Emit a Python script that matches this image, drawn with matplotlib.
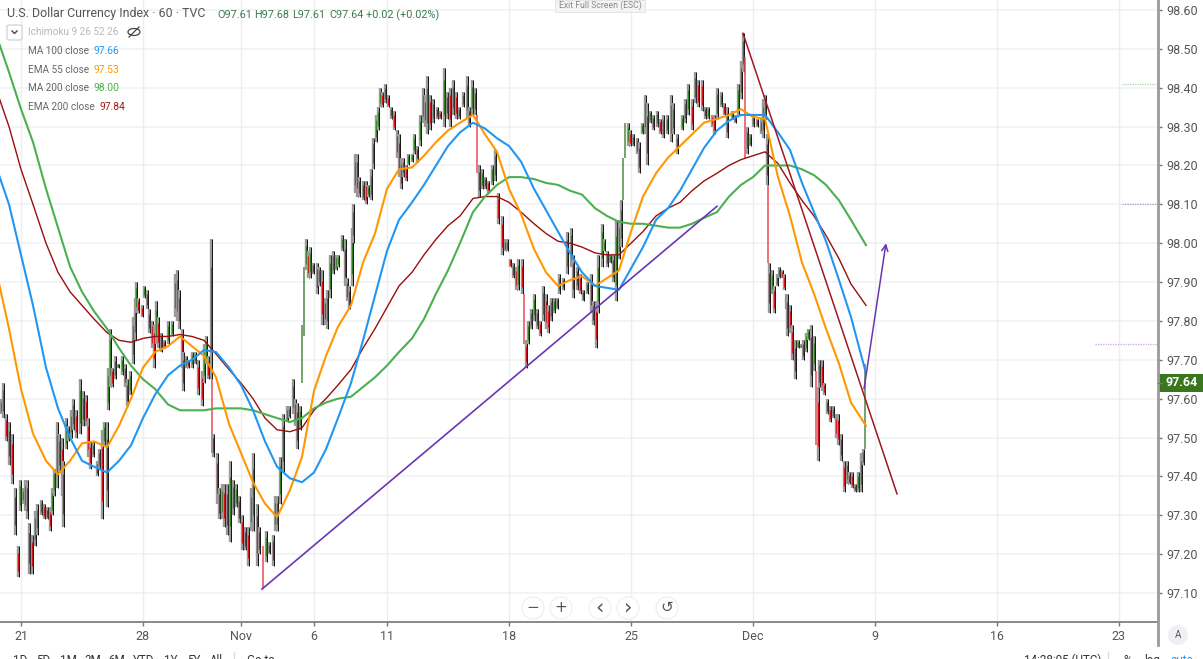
import matplotlib
matplotlib.use('Agg')
import matplotlib.pyplot as plt
from matplotlib.patches import Rectangle, FancyBboxPatch, Ellipse
from matplotlib.lines import Line2D

plt.rcParams['font.family'] = ['Roboto', 'DejaVu Sans']

W, H = 1203, 659

# hourly candles, x is the bar position on the compressed time scale
bar_index = [
    1, 3, 6, 9, 12, 15, 18, 20, 23, 25, 27, 29, 32, 35, 37, 41, 44, 47, 50, 52,
    54, 57, 59, 62, 63, 66, 68, 71, 73, 76, 80, 83, 86, 88, 90, 93, 97, 99, 102, 104,
    107, 108, 110, 112, 115, 118, 122, 125, 127, 130, 133, 135, 136, 138, 142, 144, 147, 149, 152, 154,
    156, 158, 161, 164, 168, 172, 175, 177, 179, 182, 183, 186, 188, 192, 195, 198, 202, 204, 206, 208,
    211, 212, 213, 217, 219, 222, 224, 227, 230, 233, 236, 239, 242, 245, 248, 251, 253, 257, 259, 263,
    266, 269, 273, 275, 277, 280, 283, 287, 289, 293, 295, 297, 300, 302, 304, 306, 308, 310, 313, 317,
    319, 322, 325, 327, 330, 333, 336, 338, 342, 345, 347, 349, 352, 353, 355, 357, 359, 363, 366, 368,
    371, 373, 376, 378, 380, 382, 385, 388, 391, 394, 397, 399, 401, 403, 406, 408, 412, 414, 417, 420,
    423, 425, 427, 430, 433, 437, 440, 444, 447, 450, 453, 456, 459, 463, 467, 469, 472, 475, 477, 479,
    482, 485, 488, 492, 495, 498, 502, 505, 507, 510, 513, 516, 518, 522, 524, 526, 528, 531, 534, 537,
    540, 543, 546, 548, 551, 554, 557, 559, 563, 567, 571, 573, 577, 580, 583, 587, 591, 593, 596, 598,
    602, 604, 607, 610, 613, 616, 619, 621, 623, 625, 628, 630, 633, 637, 639, 642, 645, 647, 650, 653,
    657, 660, 663, 667, 671, 673, 677, 682, 685, 688, 692, 695, 698, 702, 705, 708, 712, 714, 717, 721,
    724, 727, 732, 735, 738, 741, 743, 745, 747, 750, 753, 757, 761, 763, 765, 767, 768, 769, 772, 774,
    777, 779, 782, 784, 786, 787, 790, 792, 795, 798, 801, 803, 806, 808, 811, 814, 816, 818, 819, 822,
    824, 827, 830, 833, 836, 838, 841, 844, 847, 849, 852, 855, 858, 861, 863, 865,
]
bar_high = [
    97.60, 97.64, 97.56, 97.54, 97.51, 97.37, 97.22, 97.39, 97.37, 97.39, 97.39, 97.28, 97.25, 97.31, 97.33, 97.34, 97.33, 97.32, 97.32, 97.37,
    97.42, 97.54, 97.51, 97.50, 97.44, 97.55, 97.53, 97.57, 97.60, 97.57, 97.65, 97.62, 97.61, 97.55, 97.49, 97.49, 97.44, 97.47, 97.52, 97.54,
    97.54, 97.68, 97.78, 97.68, 97.71, 97.69, 97.71, 97.69, 97.65, 97.67, 97.81, 97.86, 97.90, 97.86, 97.84, 97.89, 97.88, 97.83, 97.80, 97.79,
    97.85, 97.81, 97.77, 97.75, 97.80, 97.80, 97.92, 97.93, 97.88, 97.78, 97.72, 97.71, 97.70, 97.72, 97.72, 97.70, 97.67, 97.74, 97.76, 97.71,
    98.01, 97.65, 97.51, 97.46, 97.37, 97.38, 97.38, 97.38, 97.44, 97.39, 97.38, 97.35, 97.30, 97.27, 97.27, 97.37, 97.46, 97.33, 97.27, 97.22,
    97.26, 97.23, 97.25, 97.35, 97.35, 97.45, 97.56, 97.58, 97.58, 97.65, 97.60, 97.59, 97.58, 97.79, 97.94, 98.01, 97.98, 97.99, 97.95, 97.95,
    97.94, 97.93, 97.86, 97.88, 97.97, 97.98, 97.97, 97.97, 98.02, 98.01, 97.91, 97.89, 98.04, 98.10, 98.23, 98.23, 98.17, 98.16, 98.16, 98.15,
    98.19, 98.27, 98.33, 98.35, 98.40, 98.39, 98.41, 98.38, 98.35, 98.34, 98.29, 98.28, 98.22, 98.22, 98.20, 98.23, 98.23, 98.28, 98.25, 98.33,
    98.40, 98.38, 98.43, 98.38, 98.37, 98.35, 98.34, 98.45, 98.39, 98.40, 98.42, 98.39, 98.35, 98.39, 98.43, 98.35, 98.42, 98.40, 98.33, 98.20,
    98.19, 98.17, 98.16, 98.20, 98.24, 98.13, 98.07, 98.01, 98.01, 97.96, 97.95, 97.94, 97.96, 97.96, 97.87, 97.75, 97.80, 97.83, 97.87, 97.83,
    97.80, 97.89, 97.87, 97.84, 97.86, 97.86, 97.86, 97.92, 97.91, 98.03, 98.04, 97.97, 97.94, 97.92, 97.88, 97.90, 97.92, 97.85, 97.85, 97.97,
    98.05, 98.01, 97.98, 97.97, 97.97, 98.06, 98.06, 98.11, 98.22, 98.31, 98.31, 98.29, 98.28, 98.27, 98.26, 98.31, 98.38, 98.36, 98.34, 98.33,
    98.34, 98.32, 98.33, 98.33, 98.38, 98.36, 98.28, 98.33, 98.37, 98.41, 98.37, 98.44, 98.42, 98.42, 98.35, 98.35, 98.33, 98.33, 98.40, 98.39,
    98.36, 98.35, 98.34, 98.33, 98.41, 98.47, 98.54, 98.48, 98.30, 98.28, 98.33, 98.32, 98.32, 98.37, 98.38, 98.28, 98.15, 97.95, 97.93, 97.89,
    97.92, 97.94, 97.93, 97.92, 97.87, 97.87, 97.84, 97.79, 97.75, 97.75, 97.74, 97.75, 97.77, 97.78, 97.79, 97.76, 97.67, 97.63, 97.70, 97.70,
    97.64, 97.60, 97.58, 97.58, 97.56, 97.56, 97.51, 97.44, 97.44, 97.41, 97.41, 97.38, 97.41, 97.46, 97.47, 97.69,
]
bar_low = [
    97.56, 97.55, 97.49, 97.43, 97.38, 97.25, 97.14, 97.31, 97.33, 97.31, 97.29, 97.15, 97.15, 97.22, 97.25, 97.30, 97.29, 97.29, 97.26, 97.30,
    97.35, 97.37, 97.41, 97.35, 97.27, 97.47, 97.49, 97.50, 97.52, 97.50, 97.51, 97.53, 97.53, 97.45, 97.42, 97.45, 97.40, 97.42, 97.29, 97.48,
    97.32, 97.57, 97.63, 97.63, 97.65, 97.68, 97.66, 97.63, 97.58, 97.61, 97.69, 97.75, 97.82, 97.82, 97.81, 97.86, 97.83, 97.77, 97.73, 97.68,
    97.74, 97.73, 97.72, 97.73, 97.74, 97.76, 97.81, 97.80, 97.78, 97.68, 97.62, 97.68, 97.68, 97.68, 97.69, 97.61, 97.58, 97.64, 97.69, 97.65,
    97.65, 97.46, 97.45, 97.33, 97.29, 97.29, 97.27, 97.25, 97.23, 97.30, 97.32, 97.28, 97.21, 97.21, 97.17, 97.26, 97.26, 97.17, 97.20, 97.11,
    97.18, 97.20, 97.17, 97.26, 97.26, 97.33, 97.41, 97.54, 97.55, 97.56, 97.53, 97.47, 97.52, 97.64, 97.76, 97.93, 97.91, 97.91, 97.92, 97.87,
    97.89, 97.79, 97.79, 97.78, 97.86, 97.92, 97.93, 97.94, 97.98, 97.89, 97.85, 97.83, 97.89, 98.00, 98.13, 98.12, 98.12, 98.11, 98.10, 98.12,
    98.11, 98.19, 98.26, 98.29, 98.35, 98.35, 98.36, 98.35, 98.32, 98.29, 98.22, 98.17, 98.14, 98.17, 98.16, 98.20, 98.21, 98.23, 98.21, 98.25,
    98.31, 98.30, 98.28, 98.29, 98.31, 98.32, 98.32, 98.30, 98.32, 98.30, 98.33, 98.32, 98.32, 98.35, 98.32, 98.30, 98.33, 98.33, 98.18, 98.12,
    98.14, 98.14, 98.13, 98.15, 98.16, 98.05, 97.97, 97.98, 97.98, 97.94, 97.91, 97.88, 97.88, 97.87, 97.74, 97.68, 97.74, 97.78, 97.80, 97.78,
    97.76, 97.80, 97.78, 97.77, 97.80, 97.82, 97.83, 97.87, 97.88, 97.92, 97.94, 97.86, 97.88, 97.87, 97.85, 97.87, 97.82, 97.79, 97.73, 97.82,
    97.94, 97.98, 97.94, 97.95, 97.90, 97.85, 97.96, 97.99, 98.11, 98.22, 98.25, 98.25, 98.25, 98.23, 98.18, 98.28, 98.28, 98.20, 98.31, 98.29,
    98.30, 98.28, 98.27, 98.28, 98.26, 98.28, 98.23, 98.29, 98.31, 98.33, 98.29, 98.36, 98.35, 98.34, 98.32, 98.32, 98.30, 98.28, 98.32, 98.35,
    98.33, 98.27, 98.32, 98.31, 98.33, 98.37, 98.44, 98.22, 98.23, 98.25, 98.30, 98.30, 98.28, 98.27, 98.32, 98.15, 97.95, 97.82, 97.87, 97.82,
    97.89, 97.91, 97.91, 97.88, 97.83, 97.76, 97.77, 97.70, 97.65, 97.73, 97.73, 97.70, 97.72, 97.75, 97.63, 97.67, 97.48, 97.44, 97.63, 97.62,
    97.61, 97.56, 97.54, 97.55, 97.50, 97.48, 97.44, 97.36, 97.38, 97.38, 97.37, 97.36, 97.36, 97.36, 97.43, 97.47,
]
# the big single hour moves that show as one clean coloured line
solid_up = [302, 304, 623, 625, 865]
solid_down = [212, 263, 477, 524, 745, 768, 816]

# moving averages, read twice per trading day
ma_index = [
    -3, 9, 21, 33, 46, 58, 70, 82, 94, 107, 119, 131, 143, 155, 168, 180, 192, 204, 216, 229, 241, 253, 265, 277,
    290, 302, 314, 326, 338, 351, 363, 375, 387, 399, 412, 424, 436, 448, 460, 473, 485, 497, 509, 521, 534, 546, 558, 570,
    582, 595, 607, 619, 631, 643, 656, 668, 680, 692, 704, 717, 729, 741, 753, 765, 778, 790, 802, 814, 826, 839, 851, 866,
]
ma100 = [
    98.19, 98.10, 97.97, 97.84, 97.68, 97.575, 97.50, 97.44, 97.425, 97.41, 97.44, 97.48, 97.55, 97.61, 97.66, 97.685, 97.70, 97.725, 97.72, 97.68, 97.635, 97.57, 97.49, 97.425,
    97.395, 97.385, 97.41, 97.47, 97.55, 97.64, 97.75, 97.865, 97.98, 98.06, 98.105, 98.15, 98.20, 98.25, 98.285, 98.31, 98.295, 98.27, 98.25, 98.21, 98.14, 98.085, 98.03, 97.975,
    97.925, 97.89, 97.885, 97.88, 97.935, 97.99, 98.06, 98.09, 98.135, 98.19, 98.245, 98.29, 98.315, 98.33, 98.33, 98.33, 98.285, 98.24, 98.155, 98.08, 98.005, 97.905, 97.81, 97.665,
]
ema55 = [
    97.92, 97.78, 97.625, 97.51, 97.44, 97.405, 97.44, 97.485, 97.49, 97.475, 97.53, 97.60, 97.68, 97.72, 97.735, 97.76, 97.735, 97.71, 97.655, 97.535, 97.46, 97.385, 97.33, 97.295,
    97.365, 97.45, 97.62, 97.71, 97.785, 97.84, 97.95, 98.025, 98.14, 98.19, 98.195, 98.225, 98.26, 98.29, 98.31, 98.33, 98.28, 98.235, 98.14, 98.075, 97.985, 97.925, 97.89, 97.905,
    97.915, 97.89, 97.91, 97.93, 98.03, 98.12, 98.18, 98.22, 98.25, 98.28, 98.31, 98.32, 98.33, 98.345, 98.325, 98.32, 98.17, 98.07, 97.95, 97.87, 97.78, 97.69, 97.59, 97.53,
]
ma200 = [
    98.53, 98.44, 98.345, 98.26, 98.14, 98.04, 97.94, 97.875, 97.825, 97.78, 97.73, 97.685, 97.65, 97.625, 97.585, 97.57, 97.57, 97.57, 97.575, 97.575, 97.575, 97.57, 97.56, 97.55,
    97.54, 97.55, 97.575, 97.59, 97.60, 97.605, 97.63, 97.655, 97.685, 97.72, 97.755, 97.805, 97.87, 97.93, 98.00, 98.08, 98.12, 98.15, 98.17, 98.17, 98.165, 98.155, 98.15, 98.135,
    98.125, 98.09, 98.07, 98.055, 98.05, 98.05, 98.045, 98.04, 98.04, 98.05, 98.065, 98.08, 98.12, 98.15, 98.17, 98.20, 98.20, 98.20, 98.19, 98.175, 98.15, 98.11, 98.06, 97.995,
]
ema200 = [
    98.39, 98.30, 98.19, 98.10, 98.00, 97.925, 97.875, 97.84, 97.805, 97.77, 97.75, 97.745, 97.755, 97.76, 97.76, 97.765, 97.76, 97.75, 97.715, 97.675, 97.64, 97.60, 97.55, 97.52,
    97.515, 97.525, 97.57, 97.60, 97.635, 97.675, 97.73, 97.78, 97.835, 97.89, 97.925, 97.97, 98.01, 98.045, 98.07, 98.115, 98.12, 98.12, 98.105, 98.08, 98.05, 98.025, 98.005, 98.00,
    97.99, 97.975, 97.97, 97.97, 98.00, 98.03, 98.07, 98.09, 98.105, 98.135, 98.16, 98.18, 98.20, 98.215, 98.225, 98.235, 98.205, 98.155, 98.11, 98.07, 98.02, 97.96, 97.895, 97.84,
]

# drawings made on the chart
purple_x = [262, 717]
purple_y = [97.11, 98.095]
red_x = [743, 897]
red_y = [98.54, 97.355]
arrow_x = [864, 886]
arrow_y = [97.625, 98.00]

x_ticks = [21, 143, 241, 314, 387, 509, 631, 753, 875, 997, 1119]
x_labels = ['21', '28', 'Nov', '6', '11', '18', '25', 'Dec', '9', '16', '23']
y_ticks = [97.1, 97.2, 97.3, 97.4, 97.5, 97.6, 97.7, 97.8, 97.9, 98.0, 98.1, 98.2, 98.3, 98.4, 98.5, 98.6]

legend_names = ['MA 100 close', 'EMA 55 close', 'MA 200 close', 'EMA 200 close']
legend_values = ['97.66', '97.53', '98.00', '97.84']
legend_colors = ['#2196f3', '#ff9800', '#4caf50', '#a31515']

range_labels = ['1D', '5D', '1M', '3M', '6M', 'YTD', '1Y', '5Y', 'All']


def px(x, y):
    return x / W, 1 - y / H


fig = plt.figure(figsize=(W / 100, H / 100), dpi=100)
ax = fig.add_axes([0, (H - 621.5) / H, 1158 / W, 621.5 / H])
ax.set_xlim(0, 1158)
ax.set_ylim(97.0266, 98.6257)

# grid
for p in y_ticks:
    ax.axhline(p, color='#f1f3f6', lw=1.3, zorder=0)
for t in x_ticks:
    ax.axvline(t, color='#eceef2', lw=1, zorder=0)

# candles: gray and black wick over the whole range, coloured body inside it
prev_mid = None
for x, hi, lo in zip(bar_index, bar_high, bar_low):
    mid = (hi + lo) / 2
    falling = prev_mid is not None and mid < prev_mid
    if x in solid_down:
        ax.vlines(x, lo, hi, color='#ee4a55', lw=1.1, zorder=2)
    elif x in solid_up:
        ax.vlines(x, lo, hi, color='#4f8a42', lw=1.1, zorder=2)
    else:
        colour = '#d0121b' if falling else '#2f7d1f'
        ax.vlines(x, lo, hi, color='#9a9a9a', lw=1.7, zorder=2)
        ax.vlines(x + 0.6, lo, hi, color='#111111', lw=0.7, zorder=2)
        ax.vlines(x - 0.5, lo + (hi - lo) * 0.2, hi - (hi - lo) * 0.2, color=colour, lw=0.8, zorder=2)
    prev_mid = mid

# moving averages
ax.plot(ma_index, ema200, color='#990f0f', lw=1.0, zorder=3, solid_joinstyle='round')
ax.plot(ma_index, ma200, color='#4caf50', lw=1.5, zorder=3, solid_joinstyle='round')
ax.plot(ma_index, ema55, color='#ff9800', lw=1.5, zorder=3, solid_joinstyle='round')
ax.plot(ma_index, ma100, color='#2196f3', lw=1.5, zorder=3, solid_joinstyle='round')

# trend lines
ax.plot(purple_x, purple_y, color='#6a35b5', lw=1.2, zorder=4)
ax.plot(red_x, red_y, color='#a01722', lw=1.1, zorder=4)
ax.annotate('', xy=(arrow_x[1], arrow_y[1]), xytext=(arrow_x[0], arrow_y[0]),
            arrowprops=dict(arrowstyle='->,head_length=0.45,head_width=0.22', color='#6a35b5', lw=1.1,
                            shrinkA=0, shrinkB=0), zorder=4)

# small marks of old drawings on the right
ax.hlines(97.74, 1095, 1157, color='#c9a6e8', lw=0.9, linestyles=(0, (1, 1)), zorder=1)
ax.hlines(98.10, 1122, 1157, color='#a796d8', lw=0.9, linestyles=(0, (1, 1)), zorder=1)
ax.hlines(98.41, 1122, 1157, color='#a9d49f', lw=0.9, linestyles=(0, (1, 1)), zorder=1)

# axes
for s in ['top', 'left', 'right']:
    ax.spines[s].set_visible(False)
ax.spines['bottom'].set_color('#757575')
ax.spines['bottom'].set_linewidth(1.2)
ax.yaxis.tick_right()
ax.set_yticks(y_ticks)
ax.set_yticklabels(['%.2f' % p for p in y_ticks])
ax.set_xticks(x_ticks)
ax.set_xticklabels(x_labels)
ax.tick_params(axis='y', length=3, width=1, color='#757575', labelcolor='#555555', labelsize=9, pad=3)
ax.tick_params(axis='x', length=3, width=1, color='#757575', labelcolor='#555555', labelsize=9, pad=3)
fig.add_artist(Line2D([1158 / W, 1158 / W], [1 - 645 / H, 1], color='#9a9a9a', lw=2))

# last price tag
fig.add_artist(Rectangle(px(1159, 392), 44 / W, 18 / H, transform=fig.transFigure, color='#3a761e', lw=0))
fig.text(*px(1166, 383), '97.64', color='white', fontsize=9, fontweight='bold', va='center')
fig.add_artist(Line2D([1158 / W, 1162 / W], [1 - 383 / H] * 2, color='#757575', lw=1))

# header
fig.text(*px(7, 14), 'U.S. Dollar Currency Index · 60 · TVC', color='#555555', fontsize=8.9, va='center')
for x, s in zip([217, 254, 292, 329, 366], ['O97.61', 'H97.68', 'L97.61', 'C97.64', '+0.02 (+0.02%)']):
    fig.text(*px(x, 15), s, color='#3d7a4d', fontsize=7.8, va='center')

# indicator legend
fig.text(*px(28, 32), 'Ichimoku 9 26 52 26', color='#b5b8bf', fontsize=7.2, va='center')
fig.add_artist(FancyBboxPatch(px(7, 40), 15 / W, 15 / H, boxstyle='round,pad=0,rounding_size=0.002',
                              transform=fig.transFigure, fc='white', ec='#c9ccd2', lw=0.8))
fig.add_artist(Line2D([12 / W, 14.5 / W, 17 / W], [1 - 31 / H, 1 - 33.5 / H, 1 - 31 / H], color='#444444', lw=1))
fig.add_artist(Ellipse(px(134, 32), 12 / W, 7 / H, transform=fig.transFigure, fc='none', ec='#444444', lw=0.9))
fig.add_artist(Line2D([129 / W, 139 / W], [1 - 37 / H, 1 - 27 / H], color='#444444', lw=0.9))
for i, (name, val, col) in enumerate(zip(legend_names, legend_values, legend_colors)):
    y = 51 + i * 18.7
    fig.text(*px(28, y), name, color='#666666', fontsize=7.2, va='center')
    fig.text(*px(99 if i == 3 else 93, y), val, color=col, fontsize=7.4, va='center')

# full screen hint
fig.add_artist(Rectangle(px(555, 12), 90 / W, 12 / H, transform=fig.transFigure, fc='#f4f4f4', ec='#e2e2e2', lw=0.6))
fig.text(*px(600, 5.5), 'Exit Full Screen (ESC)', color='#8a8a8a', fontsize=6.2, ha='center', va='center')

# chart navigation buttons
for x, s, size in zip([533, 561, 600, 628, 667], ['−', '+', '‹', '›', '↺'], [11, 11, 15, 15, 11]):
    fig.add_artist(Ellipse(px(x, 608), 22 / W, 22 / H, transform=fig.transFigure, fc='#ffffff', ec='#f0f0f0', lw=1))
    fig.text(*px(x, 607.5), s, color='#555555', fontsize=size, ha='center', va='center', family='DejaVu Sans')

# auto button
fig.add_artist(Ellipse(px(1178, 635), 20 / W, 20 / H, transform=fig.transFigure, fc='#eef0f5', ec='none'))
fig.text(*px(1178, 635), 'A', color='#555555', fontsize=7, ha='center', va='center')

# bottom toolbar, cut by the screenshot edge
for x, s in zip([13, 36, 60, 84, 108, 133, 164, 187, 210], range_labels):
    fig.text(*px(x, 654), s, color='#333333', fontsize=8.4, ha='left', va='top')
fig.add_artist(Line2D([234 / W, 234 / W], [0, 1 - 652 / H], color='#dddddd', lw=1))
fig.text(*px(247, 654), 'Go to...', color='#333333', fontsize=8.4, va='top')
fig.text(*px(1024, 654), '14:28:05 (UTC)', color='#333333', fontsize=8.4, va='top')
fig.add_artist(Line2D([1108 / W, 1108 / W], [0, 1 - 652 / H], color='#dddddd', lw=1))
fig.text(*px(1123, 654), '%', color='#333333', fontsize=8.4, va='top')
fig.text(*px(1144, 654), 'log', color='#333333', fontsize=8.4, va='top')
fig.text(*px(1170, 654), 'auto', color='#2196f3', fontsize=8.4, va='top')

fig.savefig('out.png', dpi=100)
